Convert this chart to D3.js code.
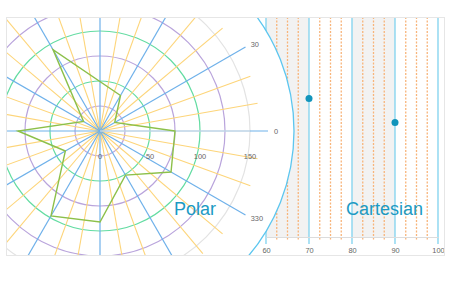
<!DOCTYPE html>
<html>
<head>
<meta charset="utf-8">
<script src="https://cdn.jsdelivr.net/npm/d3@7/dist/d3.min.js"></script>
<style>
  html, body { margin: 0; padding: 0; background: #fff; }
  svg { display: block; }
  text { font-family: "Liberation Sans", Arial, sans-serif; }
</style>
</head>
<body>
<svg id="chart" width="451" height="292"></svg>
<script>
// ---- data ----
// polar line: [radius, angle in degrees, counter-clockwise from 3 o'clock]
const polarRadius = [75, 17, 41, 94, 19, 82, 40, 98, 91, 51, 82];
const polarAngle  = [0, 30, 60, 120, 150, 180, 210, 240, 270, 300, 330];
const radialTicks = [0, 50, 100, 150];
const radialSplits = [25, 50, 75, 100, 125, 150];
const angleTicks = [0, 30, 60, 90, 120, 150, 180, 210, 240, 270, 300, 330];
const angleMinor = d3.range(0, 360, 10).filter(a => a % 30 !== 0);

// cartesian scatter
const scatterX = [70, 90];
const scatterY = [63, 52];
const xTicks = [60, 70, 80, 90, 100];
const xMinor = [62.5, 65, 67.5, 72.5, 75, 77.5, 82.5, 85, 87.5, 92.5, 95, 97.5];
const xBands = [[60, 70], [80, 90]];

// ---- layout ----
const frame = { x: 6, y: 17, w: 439, h: 239 };
const cx = 100, cy = 131;
const gridBottom = 237;

const svg = d3.select("#chart");

svg.append("defs").append("clipPath").attr("id", "frameClip")
  .append("rect").attr("x", frame.x).attr("y", frame.y)
  .attr("width", frame.w).attr("height", frame.h);

// ---- cartesian ----
const x = d3.scaleLinear().domain([60, 100]).range([266, 438]);
const y = d3.scaleLinear().domain([0, 100]).range([gridBottom, frame.y]);

const cart = svg.append("g").attr("clip-path", "url(#frameClip)");

cart.selectAll("rect.band").data(xBands).join("rect")
  .attr("class", "band")
  .attr("x", d => x(d[0])).attr("width", d => x(d[1]) - x(d[0]))
  .attr("y", frame.y).attr("height", gridBottom - frame.y)
  .attr("fill", "#f2f2f2");

cart.selectAll("line.minor").data(xMinor).join("line")
  .attr("class", "minor")
  .attr("x1", d => x(d)).attr("x2", d => x(d))
  .attr("y1", frame.y).attr("y2", gridBottom + 3)
  .style("stroke", "#f8b47a").style("stroke-width", 1.3)
  .style("stroke-dasharray", "2,1.5");

cart.selectAll("line.major").data(xTicks).join("line")
  .attr("class", "major")
  .attr("x1", d => x(d)).attr("x2", d => x(d))
  .attr("y1", frame.y).attr("y2", gridBottom + 7)
  .style("stroke", "#7fd2ef").style("stroke-width", 1.3);

const xAxis = d3.axisBottom(x).tickValues(xTicks).tickSize(0).tickPadding(11)
  .tickFormat(d3.format("d"));
const gx = cart.append("g").attr("transform", `translate(0,${gridBottom})`).call(xAxis);
gx.select(".domain").style("stroke", "#dcdcdc").style("stroke-width", 1.2);
gx.selectAll(".tick text").attr("fill", "#666").attr("font-size", 7.4)
  .attr("font-family", "Liberation Sans, Arial, sans-serif");

cart.selectAll("circle.dot").data(scatterX.map((v, i) => [v, scatterY[i]])).join("circle")
  .attr("class", "dot")
  .attr("cx", d => x(d[0])).attr("cy", d => y(d[1]))
  .attr("r", 3.5).attr("fill", "#1194bb");

// ---- polar ----
const r = d3.scaleLinear().domain([0, 150]).range([0, 150]);
const ang = d3.scaleLinear().domain([0, 360]).range([Math.PI / 2, Math.PI / 2 - 2 * Math.PI]);
const px = (rad, a) => cx + rad * Math.cos(a * Math.PI / 180);
const py = (rad, a) => cy - rad * Math.sin(a * Math.PI / 180);

const polar = svg.append("g").attr("clip-path", "url(#frameClip)");

// backing disk of the polar system
polar.append("circle").attr("cx", cx).attr("cy", cy).attr("r", 194)
  .attr("fill", "#fff").attr("stroke", "#5cc6ef").attr("stroke-width", 1.3);

polar.selectAll("circle.split").data(radialSplits).join("circle")
  .attr("class", "split")
  .attr("cx", cx).attr("cy", cy).attr("r", d => r(d))
  .attr("fill", "none").attr("stroke-width", 1.2)
  .attr("stroke", d => d === 150 ? "#e3e3e3" : (d % 50 === 0 ? "#63dca2" : "#b9a4dc"));

polar.selectAll("line.aminor").data(angleMinor).join("line")
  .attr("class", "aminor")
  .attr("x1", cx).attr("y1", cy)
  .attr("x2", d => px(160, d)).attr("y2", d => py(160, d))
  .attr("stroke", "#fdd57a").attr("stroke-width", 1.1);

polar.selectAll("line.amajor").data(angleTicks).join("line")
  .attr("class", "amajor")
  .attr("x1", cx).attr("y1", cy)
  .attr("x2", d => px(168, d)).attr("y2", d => py(168, d))
  .attr("stroke", "#6fb1ea").attr("stroke-width", 1.2);

// radial axis line
polar.append("line").attr("x1", cx).attr("y1", cy).attr("x2", cx + r(150)).attr("y2", cy)
  .attr("stroke", "#e3e3e3").attr("stroke-width", 1.2);

const line = d3.lineRadial()
  .radius(d => r(d[0])).angle(d => ang(d[1]))
  .curve(d3.curveLinearClosed);

polar.append("path")
  .datum(polarRadius.map((v, i) => [v, polarAngle[i]]))
  .attr("transform", `translate(${cx},${cy})`)
  .attr("d", line)
  .attr("fill", "none").attr("stroke", "#8cc04a").attr("stroke-width", 1.4);

polar.selectAll("text.rlabel").data(radialTicks).join("text")
  .attr("class", "rlabel")
  .attr("x", d => cx + r(d)).attr("y", cy + 28)
  .attr("text-anchor", "middle")
  .attr("font-size", 7.4).attr("fill", "#666")
  .text(d => d);

// angle labels: only those that fall inside the plotting frame
const labelR = 174;
const visibleAngles = angleTicks.filter(d => {
  const lx = px(labelR, d), ly = py(labelR, d);
  return lx > frame.x + 8 && lx < frame.x + frame.w - 8 && ly > frame.y + 6 && ly < frame.y + frame.h - 6;
});
polar.selectAll("text.alabel").data(visibleAngles).join("text")
  .attr("class", "alabel")
  .attr("x", d => px(labelR, d)).attr("y", d => py(labelR, d))
  .attr("dy", "0.35em")
  .attr("text-anchor", d => {
    const c = Math.cos(d * Math.PI / 180);
    return c > 0.1 ? "start" : (c < -0.1 ? "end" : "middle");
  })
  .attr("font-size", 7.4).attr("fill", "#666")
  .text(d => d);

// ---- titles ----
svg.append("text").attr("x", 174).attr("y", 215)
  .attr("font-family", "Open Sans, sans-serif").attr("font-size", 18).attr("font-weight", 500)
  .attr("fill", "#1b9ac3").text("Polar");
svg.append("text").attr("x", 346).attr("y", 215)
  .attr("font-family", "Open Sans, sans-serif").attr("font-size", 18).attr("font-weight", 500)
  .attr("fill", "#1b9ac3").text("Cartesian");

// ---- frame ----
svg.append("rect").attr("x", frame.x + 0.5).attr("y", frame.y + 0.5)
  .attr("width", frame.w - 1).attr("height", frame.h - 1)
  .attr("fill", "none").attr("stroke", "#e6e6e6").attr("stroke-width", 1);
</script>
</body>
</html>
